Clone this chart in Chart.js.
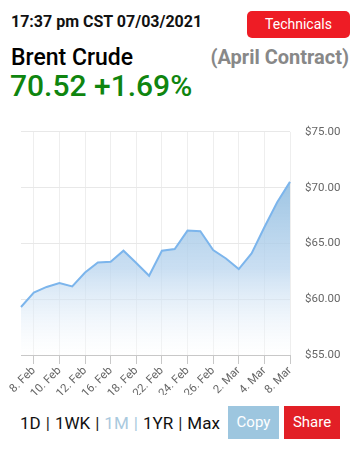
<!DOCTYPE html>
<html>
<head>
<meta charset="utf-8">
<script src="https://cdn.jsdelivr.net/npm/chart.js@4/dist/chart.umd.min.js"></script>
<style>
  html, body { margin: 0; padding: 0; background: #fff; }
  body { width: 354px; height: 455px; position: relative; overflow: hidden; font-family: Roboto, "Noto Sans", sans-serif; }
  .abs { position: absolute; line-height: 1; white-space: nowrap; }
  #stamp { left: 11px; top: 14px; font-size: 16px; font-weight: 700; color: #111; }
  #name { left: 11px; top: 46px; font-size: 23px; font-weight: 500; color: #000; }
  #price { left: 10px; top: 71px; font-size: 30px; font-weight: 500; color: #0f850f; }
  #contract { right: 5px; top: 47px; font-size: 20px; font-weight: 700; color: #888; }
  .btn { position: absolute; color: #fff; text-align: center; }
  #tech { left: 247px; top: 11px; width: 103px; height: 27px; line-height: 27px; border-radius: 5px; background: #ee1c25; font-size: 14px; }
  #ranges { left: 20px; top: 415px; font-size: 17px; color: #111; }
  #ranges .sep { color: #222; margin: 0 5px; }
  #ranges .on { color: #a9c9de; }
  #copy { left: 228px; top: 406px; width: 51px; height: 33px; line-height: 33px; background: #9dc6df; font-size: 15px; }
  #share { left: 284px; top: 406px; width: 56px; height: 33px; line-height: 33px; background: #e21f26; font-size: 15px; }
  #wrap { position: absolute; left: 0; top: 110px; width: 354px; height: 285px; }
</style>
</head>
<body>
<div class="abs" id="stamp">17:37 pm CST 07/03/2021</div>
<div class="btn" id="tech">Technicals</div>
<div class="abs" id="name">Brent Crude</div>
<div class="abs" id="contract">(April Contract)</div>
<div class="abs" id="price">70.52 +1.69%</div>

<div id="wrap"><canvas id="chart"></canvas></div>

<div class="abs" id="ranges">1D<span class="sep">|</span>1WK<span class="sep">|</span><span class="on">1M</span><span class="sep on">|</span>1YR<span class="sep">|</span>Max</div>
<div class="btn" id="copy">Copy</div>
<div class="btn" id="share">Share</div>

<script>
// trading days shown on the chart
const days = [
  '5. Feb', '8. Feb', '9. Feb', '10. Feb', '11. Feb', '12. Feb', '15. Feb', '16. Feb',
  '17. Feb', '18. Feb', '19. Feb', '22. Feb', '23. Feb', '24. Feb', '25. Feb', '26. Feb',
  '1. Mar', '2. Mar', '3. Mar', '4. Mar', '5. Mar', '8. Mar'
];

// closing price, USD
const prices = [
  59.3, 60.6, 61.1, 61.45, 61.15, 62.4, 63.3, 63.35,
  64.35, 63.25, 62.1, 64.35, 64.5, 66.15, 66.1, 64.4,
  63.65, 62.7, 64.1, 66.45, 68.7, 70.52
];

const yMin = 55;
const yMax = 75;
const yStep = 5;

const ctx = document.getElementById('chart').getContext('2d');

new Chart(ctx, {
  type: 'line',
  data: {
    labels: days,
    datasets: [{
      data: prices,
      borderColor: '#7cb5ec',
      borderWidth: 2,
      pointRadius: 0,
      tension: 0,
      fill: 'start',
      backgroundColor: (c) => {
        const area = c.chart.chartArea;
        if (!area) return 'rgba(124,181,236,0.4)';
        // gradient runs from the highest price down to the x axis
        const top = c.chart.scales.y.getPixelForValue(Math.max(...prices));
        const g = c.chart.ctx.createLinearGradient(0, top, 0, area.bottom);
        g.addColorStop(0, 'rgba(140,186,222,0.85)');
        g.addColorStop(0.5, 'rgba(184,212,238,0.75)');
        g.addColorStop(1, 'rgba(255,255,255,0.3)');
        return g;
      }
    }]
  },
  options: {
    responsive: true,
    maintainAspectRatio: false,
    animation: false,
    layout: { padding: { left: 21, top: 12, right: 0, bottom: 0 } },
    plugins: {
      legend: { display: false },
      tooltip: { enabled: false }
    },
    scales: {
      x: {
        offset: false,
        // only every other trading day gets a tick, like the original
        afterBuildTicks: (scale) => {
          scale.ticks = scale.ticks.filter(t => t.value % 2 === 1);
        },
        afterFit: (scale) => { scale.height = 40; },
        ticks: {
          autoSkip: false,
          maxRotation: 45,
          minRotation: 45,
          padding: 0,
          color: '#666',
          font: { family: 'Roboto', size: 11.5 }
        },
        grid: {
          color: '#eeeeee',
          tickColor: '#c8c8c8',
          tickLength: 9
        },
        border: { color: '#c8c8c8' }
      },
      y: {
        position: 'right',
        min: yMin,
        max: yMax,
        afterFit: (scale) => { scale.width = 64; },
        ticks: {
          stepSize: yStep,
          padding: 15,
          color: '#666',
          font: { family: 'Roboto', size: 11.5 },
          callback: (v) => '$' + Number(v).toFixed(2)
        },
        grid: { color: '#e8e8e8', drawTicks: false },
        border: { display: false }
      }
    }
  }
});
</script>
</body>
</html>
